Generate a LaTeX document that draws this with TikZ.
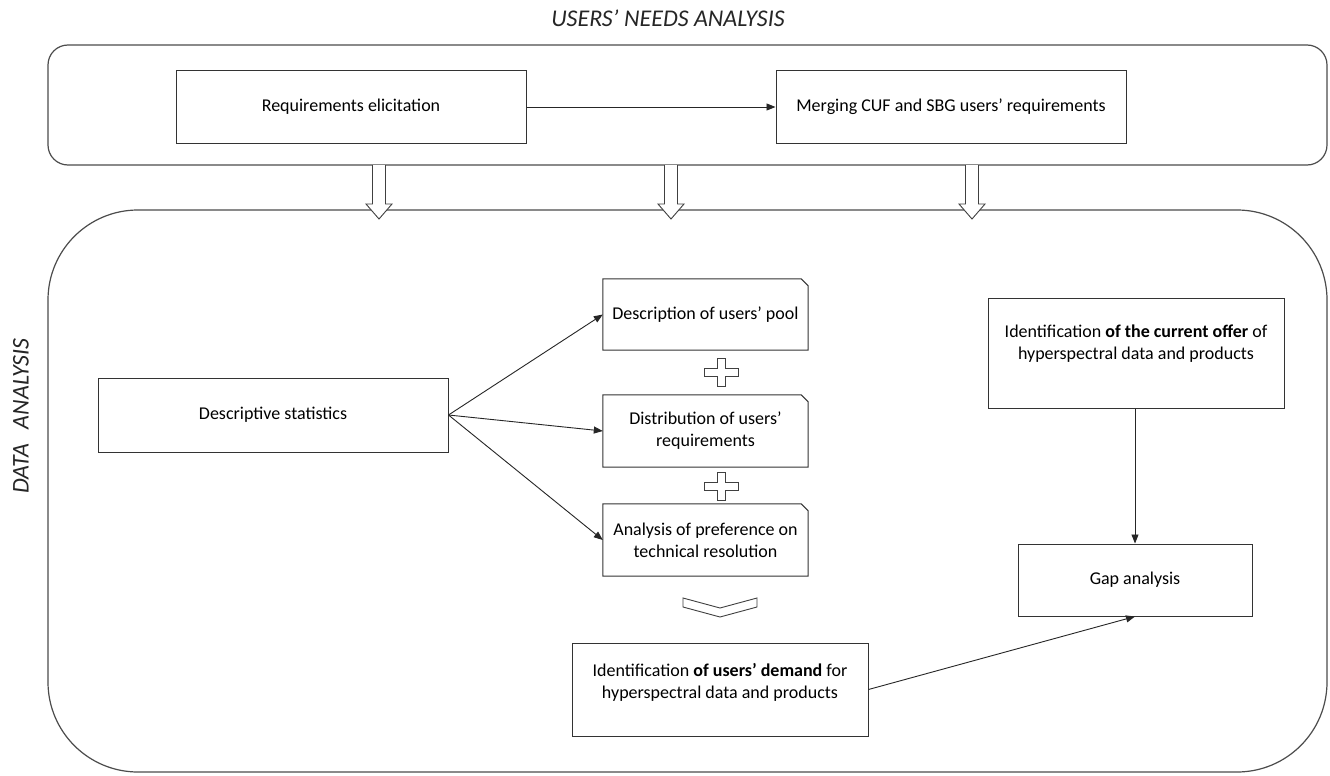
\documentclass[tikz,border=0pt]{standalone}
\usepackage{fontspec}
\setmainfont{Carlito}
\usetikzlibrary{arrows.meta}
\begin{document}
\begin{tikzpicture}[x=1pt,y=-1pt,
 box/.style={draw=black!80, line width=1pt, fill=white, align=center, font=\fontsize{18}{22}\selectfont, inner sep=0pt},
 plainbox/.style={draw=black!80, line width=1pt, fill=white, inner sep=0pt},
 txt/.style={align=center, font=\fontsize{18}{22}\selectfont, inner sep=0pt},
 snipbox/.style={align=center, font=\fontsize{18}{22}\selectfont, inner sep=0pt},
 conn/.style={-{Triangle[length=9pt,width=7pt]}, line width=0.9pt, draw=black!85},
 region/.style={draw=black!70, line width=1.2pt},
 titletext/.style={font=\fontsize{24}{28}\selectfont\itshape, text=black!85},
 hollow/.style={draw=black!75, line width=0.9pt, fill=white},
]
\useasboundingbox (0,0) rectangle (1330,776);
\fill[white] (0,0) rectangle (1330,776);

% titles
\node[titletext] (t1) at (668,18) {USERS’ NEEDS ANALYSIS};
\node[titletext, rotate=90] (t2) at (21,416) {DATA\hspace{0.6em}ANALYSIS};

% regions
\draw[region, rounded corners=20pt] (48,45) rectangle (1327,165);
\draw[region, rounded corners=90pt] (48,210) rectangle (1327,772);

% top boxes
\node[box, minimum width=350pt, minimum height=72pt] (req) at (351,107) {Requirements elicitation};
\node[box, minimum width=350pt, minimum height=72pt] (merge) at (951,107) {Merging CUF and SBG users’ requirements};
\draw[conn] (req) -- (merge);

% hollow down arrows
\foreach \c in {379,671,972}{
  \draw[hollow] (\c-6.5,165) -- (\c-6.5,204) -- (\c-13,204) -- (\c,219) -- (\c+13,204) -- (\c+6.5,204) -- (\c+6.5,165);
}

% data analysis boxes
\node[box, minimum width=350pt, minimum height=74pt] (ds) at (273,415) {Descriptive statistics};

\node[snipbox, minimum width=205pt, minimum height=71pt] (pool) at (705.5,314.5) {Description of users’ pool};
\node[snipbox, minimum width=205pt, minimum height=72pt] (dist) at (705.5,431) {Distribution of users’\\requirements};
\node[snipbox, minimum width=205pt, minimum height=72pt] (pref) at (705.5,540) {Analysis of preference on\\technical resolution};
\foreach \n in {pool,dist,pref}{
  \draw[black!80, line width=1pt] (\n.south west) -- (\n.north west) -- ([xshift=-7pt]\n.north east) -- ([yshift=-7pt]\n.north east) -- (\n.south east) -- cycle;
}

\draw[conn] (ds.east) -- (pool.west);
\draw[conn] (ds.east) -- (dist.west);
\draw[conn] (ds.east) -- (pref.west);

% plus signs
\foreach \cy in {372,486}{
  \draw[hollow] (721-4,\cy-14) -- (721+4,\cy-14) -- (721+4,\cy-4) -- (721+17,\cy-4) -- (721+17,\cy+4) -- (721+4,\cy+4) -- (721+4,\cy+14) -- (721-4,\cy+14) -- (721-4,\cy+4) -- (721-17,\cy+4) -- (721-17,\cy-4) -- (721-4,\cy-4) -- cycle;
}

% chevron
\draw[hollow] (683,598) -- (720,608) -- (757,598) -- (757,607) -- (720,617) -- (683,607) -- cycle;

\node[plainbox, minimum width=296pt, minimum height=93pt] (dem) at (720,689.5) {};
\node[txt] (demtxt) at (720,682) {Identification \textbf{of users’ demand} for\\hyperspectral data and products};
\node[plainbox, minimum width=296pt, minimum height=110pt] (offer) at (1136,353) {};
\node[txt] (offertxt) at (1136,344) {Identification \textbf{of the current offer} of\\hyperspectral data and products};
\node[box, minimum width=234pt, minimum height=72pt] (gap) at (1135,580) {Gap analysis};

\draw[conn] (offer.south -| gap.north) -- (gap.north);
\draw[conn] (dem.east) -- (gap.south);
\end{tikzpicture}
\end{document}
